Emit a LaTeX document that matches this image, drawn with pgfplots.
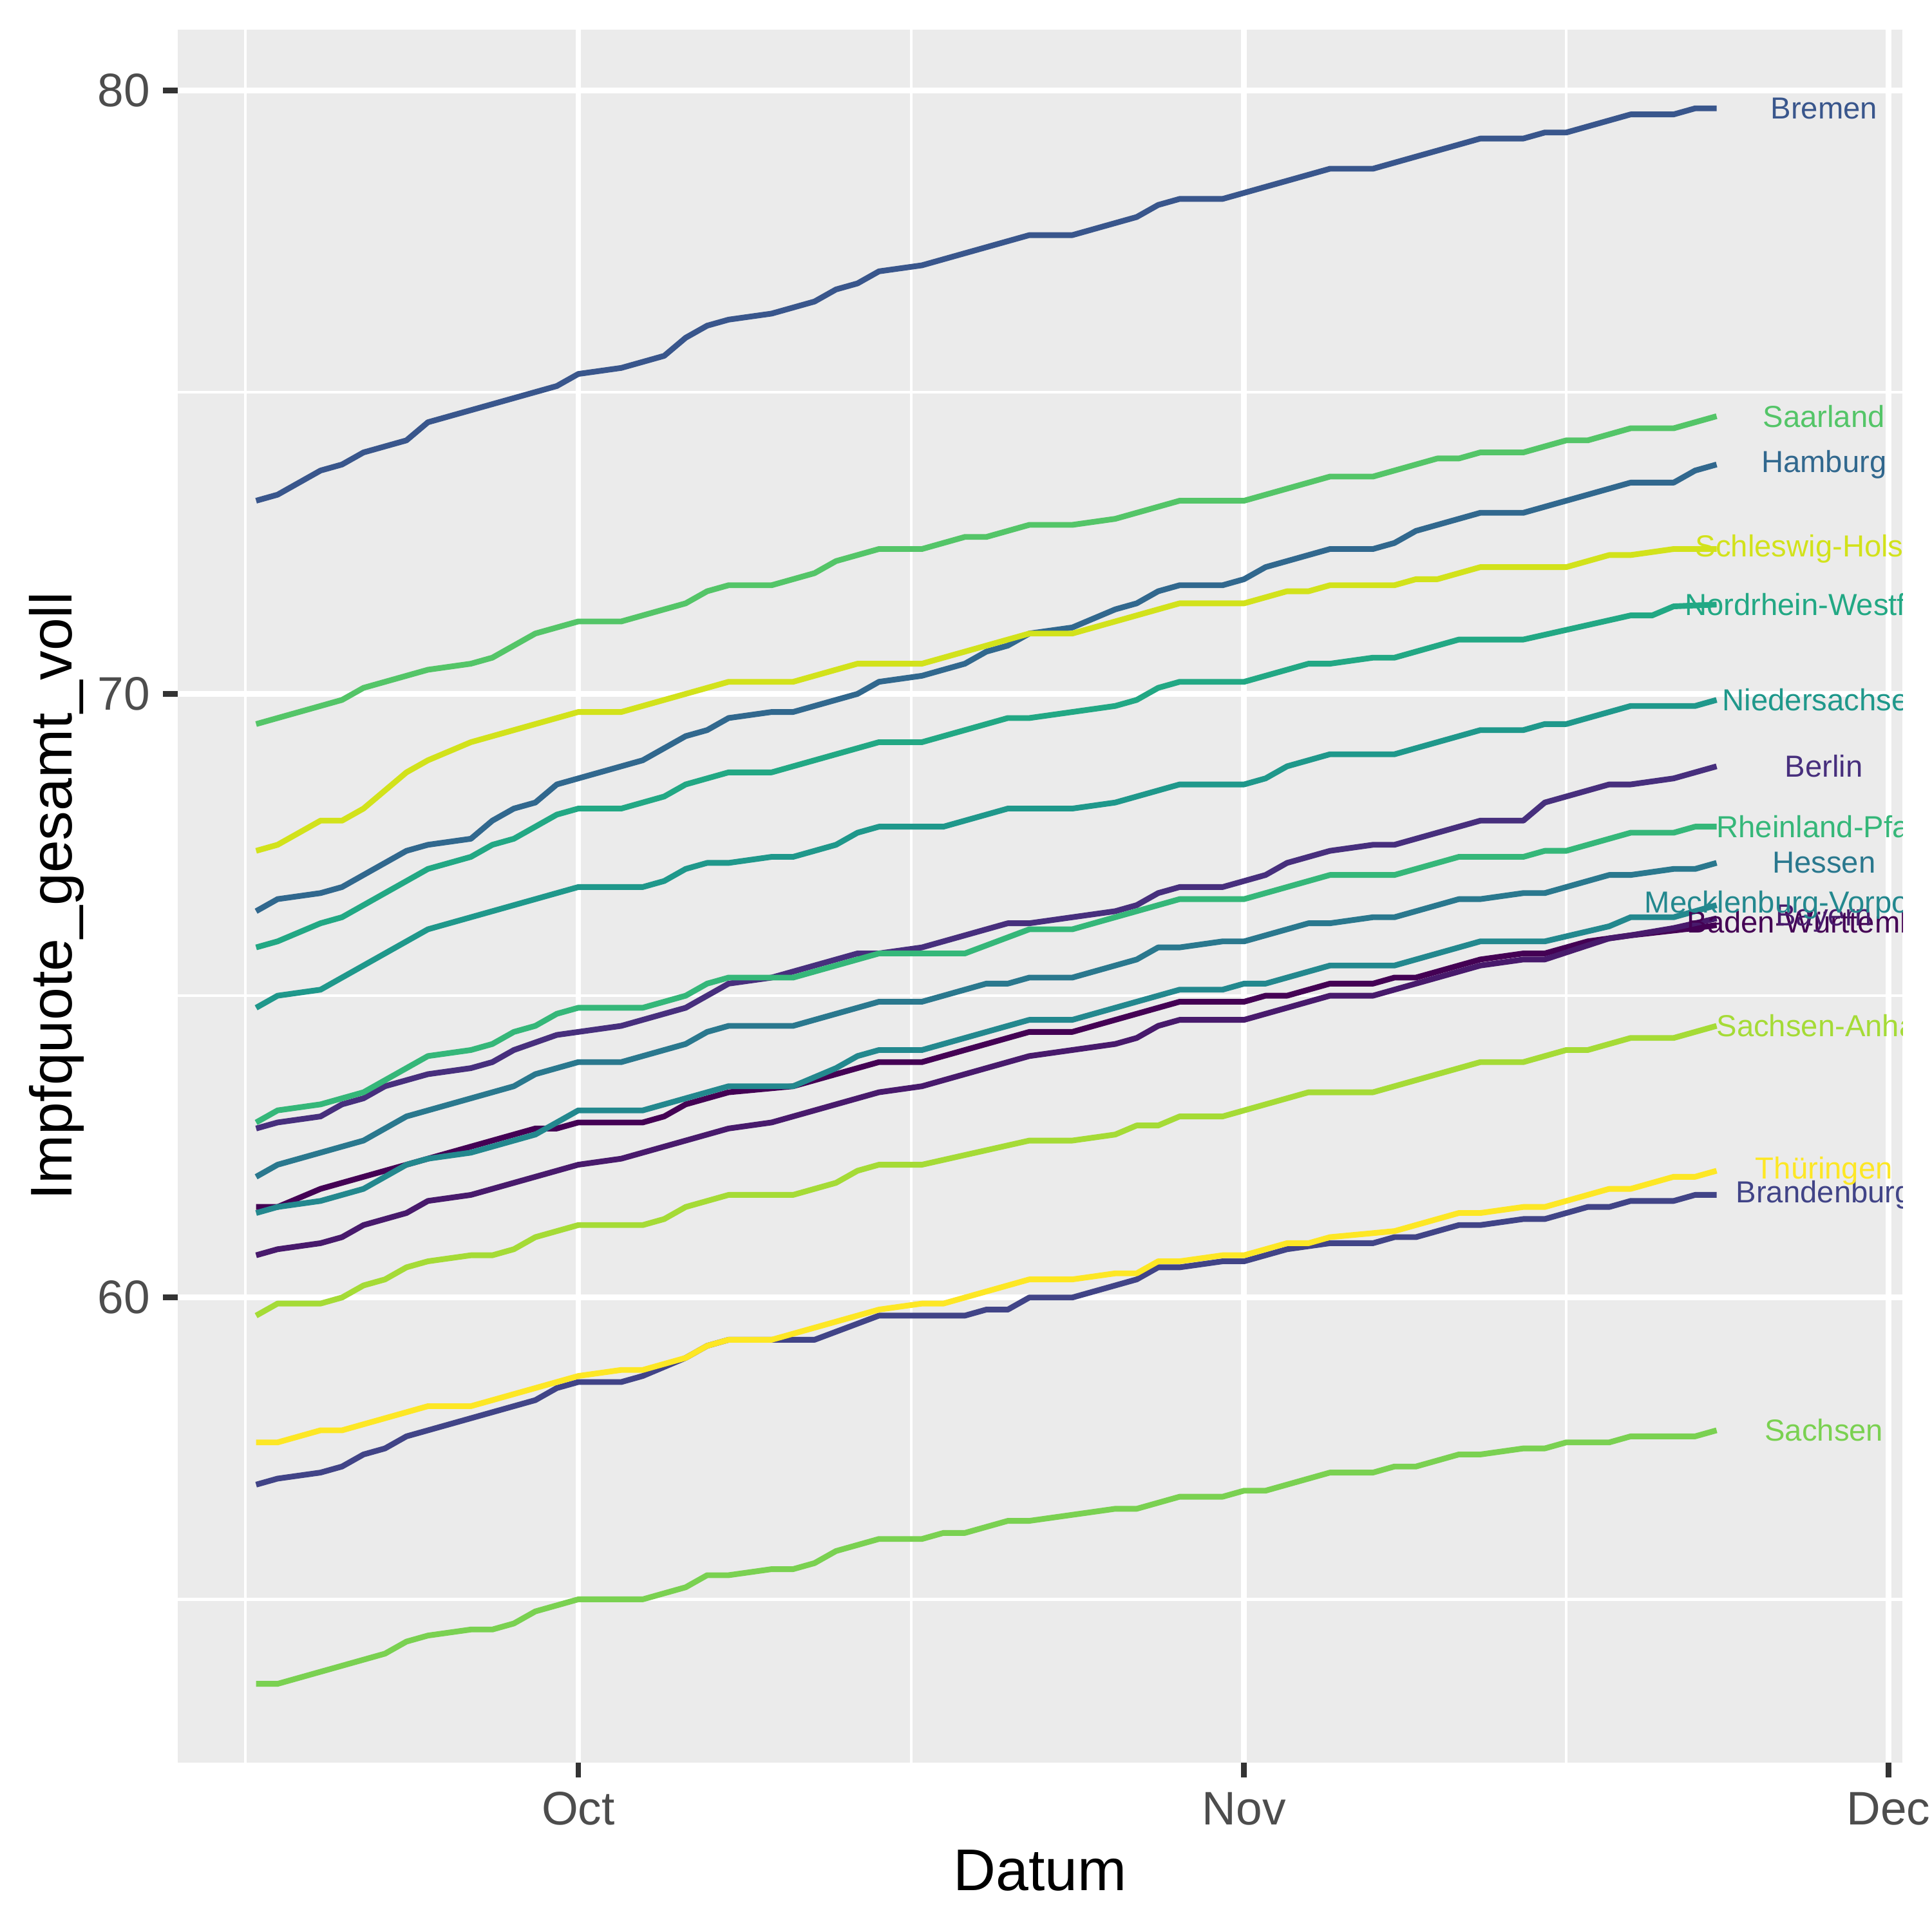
\documentclass[border=0pt]{standalone}
\usepackage{fontspec}
\setmainfont{Liberation Sans}
\usepackage{pgfplots}
\pgfplotsset{compat=1.18}
\definecolor{panelbg}{HTML}{EBEBEB}
\definecolor{tickgray}{HTML}{333333}
\definecolor{ticktext}{HTML}{4D4D4D}
\definecolor{cBW}{HTML}{440154}
\definecolor{cBY}{HTML}{481A6C}
\definecolor{cBE}{HTML}{472F7D}
\definecolor{cBB}{HTML}{414487}
\definecolor{cHB}{HTML}{39568C}
\definecolor{cHH}{HTML}{31688E}
\definecolor{cHE}{HTML}{2A788E}
\definecolor{cMV}{HTML}{23888E}
\definecolor{cNI}{HTML}{1F988B}
\definecolor{cNW}{HTML}{22A884}
\definecolor{cRP}{HTML}{35B779}
\definecolor{cSL}{HTML}{54C568}
\definecolor{cSN}{HTML}{7AD151}
\definecolor{cST}{HTML}{A5DB36}
\definecolor{cSH}{HTML}{D2E21B}
\definecolor{cTH}{HTML}{FDE725}
\newcommand\ticklabfont{\fontsize{8.8}{10}\selectfont}
\newcommand\titlefont{\fontsize{11}{13}\selectfont}
\newcommand\labfont{\fontsize{5.69}{6.8}\selectfont}
\begin{document}
\begin{tikzpicture}
\useasboundingbox (0,0) rectangle (361.35pt,361.35pt);
\begin{axis}[
  at={(33.24pt,31.68pt)}, anchor=south west,
  scale only axis, width=322.57pt, height=324.13pt,
  xmin=-18.65, xmax=61.65, ymin=52.295, ymax=81.005,
  axis background/.style={fill=panelbg},
  axis line style={draw=none},
  xtick={0,31,61}, xticklabels={Oct,Nov,Dec},
  ytick={60,70,80}, yticklabels={60,70,80},
  minor xtick={-15.5,15.5,46}, minor ytick={55,65,75},
  grid=both,
  major grid style={white, line width=1.07pt},
  minor grid style={white, line width=0.53pt},
  tick align=outside, tick pos=left,
  major tick length=2.75pt, minor tick length=0pt,
  major tick style={tickgray, line width=1.07pt},
  tick label style={font=\ticklabfont, text=ticktext},
  xticklabel style={anchor=base, yshift=-8.83pt},
  yticklabel style={anchor=east, inner sep=0pt, xshift=-2.2pt},
  every axis x label/.style={at={(axis description cs:0.5,-0.07395)}, anchor=base, font=\titlefont},
  every axis y label/.style={at={(axis description cs:-0.06135,0.5)}, rotate=90, anchor=base, font=\titlefont},
  xlabel={Datum}, ylabel={Impfquote\_gesamt\_voll},
  /pgf/number format/assume math mode=true,
  every axis plot/.append style={line width=1.07pt, line join=round, mark=none},
]
% Baden-Wuerttemberg
\addplot[cBW] coordinates {(-15,61.5) (-14,61.5) (-12,61.8) (-10,62.0) (-8,62.2) (-5,62.5) (-3,62.7) (-2,62.8) (-1,62.8) (0,62.9) (3,62.9) (4,63.0) (5,63.2) (7,63.4) (10,63.5) (13,63.8) (14,63.9) (16,63.9) (20,64.3) (21,64.4) (23,64.4) (26,64.7) (28,64.9) (31,64.9) (32,65.0) (33,65.0) (35,65.2) (37,65.2) (38,65.3) (39,65.3) (42,65.6) (44,65.7) (45,65.7) (47,65.9) (49,66.0) (51,66.08) (52,66.12) (53,66.17)};
% Bayern
\addplot[cBY] coordinates {(-15,60.7) (-14,60.8) (-12,60.9) (-11,61.0) (-10,61.2) (-8,61.4) (-7,61.6) (-5,61.7) (-1,62.1) (0,62.2) (2,62.3) (6,62.7) (7,62.8) (9,62.9) (12,63.2) (14,63.4) (16,63.5) (20,63.9) (21,64.0) (23,64.1) (25,64.2) (26,64.3) (27,64.5) (28,64.6) (31,64.6) (35,65.0) (37,65.0) (42,65.5) (44,65.6) (45,65.6) (48,65.95) (49,66.0) (51,66.12) (52,66.2) (53,66.28)};
% Berlin
\addplot[cBE] coordinates {(-15,62.8) (-14,62.9) (-12,63.0) (-11,63.2) (-10,63.3) (-9,63.5) (-8,63.6) (-7,63.7) (-5,63.8) (-4,63.9) (-3,64.1) (-1,64.35) (0,64.4) (2,64.5) (5,64.8) (7,65.2) (9,65.3) (11,65.5) (13,65.7) (14,65.7) (16,65.8) (19,66.1) (20,66.2) (21,66.2) (25,66.4) (26,66.5) (27,66.7) (28,66.8) (30,66.8) (31,66.9) (32,67.0) (33,67.2) (35,67.4) (37,67.5) (38,67.5) (42,67.9) (44,67.9) (45,68.2) (48,68.5) (49,68.5) (51,68.6) (53,68.8)};
% Brandenburg
\addplot[cBB] coordinates {(-15,56.9) (-14,57.0) (-12,57.1) (-11,57.2) (-10,57.4) (-9,57.5) (-8,57.7) (-2,58.3) (-1,58.5) (0,58.6) (2,58.6) (3,58.7) (5,59.0) (6,59.2) (7,59.3) (11,59.3) (14,59.7) (18,59.7) (19,59.8) (20,59.8) (21,60.0) (23,60.0) (26,60.3) (27,60.5) (28,60.5) (30,60.6) (31,60.6) (33,60.8) (35,60.9) (37,60.9) (38,61.0) (39,61.0) (41,61.2) (42,61.2) (44,61.3) (45,61.3) (47,61.5) (48,61.5) (49,61.6) (51,61.6) (52,61.7) (53,61.7)};
% Bremen
\addplot[cHB] coordinates {(-15,73.2) (-14,73.3) (-12,73.7) (-11,73.8) (-10,74.0) (-8,74.2) (-7,74.5) (-1,75.1) (0,75.3) (2,75.4) (4,75.6) (5,75.9) (6,76.1) (7,76.2) (9,76.3) (11,76.5) (12,76.7) (13,76.8) (14,77.0) (16,77.1) (21,77.6) (23,77.6) (26,77.9) (27,78.1) (28,78.2) (30,78.2) (35,78.7) (37,78.7) (42,79.2) (44,79.2) (45,79.3) (46,79.3) (49,79.6) (51,79.6) (52,79.7) (53,79.7)};
% Hamburg
\addplot[cHH] coordinates {(-15,66.4) (-14,66.6) (-12,66.7) (-11,66.8) (-8,67.4) (-7,67.5) (-5,67.6) (-4,67.9) (-3,68.1) (-2,68.2) (-1,68.5) (0,68.6) (3,68.9) (5,69.3) (6,69.4) (7,69.6) (9,69.7) (10,69.7) (13,70.0) (14,70.2) (16,70.3) (18,70.5) (19,70.7) (20,70.8) (21,71.0) (23,71.1) (25,71.4) (26,71.5) (27,71.7) (28,71.8) (30,71.8) (31,71.9) (32,72.1) (35,72.4) (37,72.4) (38,72.5) (39,72.7) (42,73.0) (44,73.0) (49,73.5) (51,73.5) (52,73.7) (53,73.8)};
% Hessen
\addplot[cHE] coordinates {(-15,62.0) (-14,62.2) (-12,62.4) (-10,62.6) (-8,63.0) (-7,63.1) (-5,63.3) (-3,63.5) (-2,63.7) (0,63.9) (2,63.9) (5,64.2) (6,64.4) (7,64.5) (10,64.5) (14,64.9) (16,64.9) (19,65.2) (20,65.2) (21,65.3) (23,65.3) (26,65.6) (27,65.8) (28,65.8) (30,65.9) (31,65.9) (34,66.2) (35,66.2) (37,66.3) (38,66.3) (41,66.6) (42,66.6) (44,66.7) (45,66.7) (48,67.0) (49,67.0) (51,67.1) (52,67.1) (53,67.2)};
% Mecklenburg-Vorpommern
\addplot[cMV] coordinates {(-15,61.4) (-14,61.5) (-12,61.6) (-10,61.8) (-8,62.2) (-7,62.3) (-5,62.4) (-2,62.7) (0,63.1) (3,63.1) (5,63.3) (7,63.5) (10,63.5) (12,63.8) (13,64.0) (14,64.1) (16,64.1) (20,64.5) (21,64.6) (23,64.6) (28,65.1) (30,65.1) (31,65.2) (32,65.2) (35,65.5) (38,65.5) (42,65.9) (45,65.9) (48,66.15) (49,66.3) (51,66.3) (53,66.5)};
% Niedersachsen
\addplot[cNI] coordinates {(-15,64.8) (-14,65.0) (-12,65.1) (-7,66.1) (-5,66.3) (-4,66.4) (0,66.8) (3,66.8) (4,66.9) (5,67.1) (6,67.2) (7,67.2) (9,67.3) (10,67.3) (12,67.5) (13,67.7) (14,67.8) (17,67.8) (20,68.1) (23,68.1) (25,68.2) (27,68.4) (28,68.5) (31,68.5) (32,68.6) (33,68.8) (35,69.0) (38,69.0) (42,69.4) (44,69.4) (45,69.5) (46,69.5) (49,69.8) (52,69.8) (53,69.9)};
% Nordrhein-Westfalen
\addplot[cNW] coordinates {(-15,65.8) (-14,65.9) (-12,66.2) (-11,66.3) (-7,67.1) (-5,67.3) (-4,67.5) (-3,67.6) (-1,68.0) (0,68.1) (2,68.1) (4,68.3) (5,68.5) (7,68.7) (9,68.7) (14,69.2) (16,69.2) (20,69.6) (21,69.6) (25,69.8) (26,69.9) (27,70.1) (28,70.2) (31,70.2) (34,70.5) (35,70.5) (37,70.6) (38,70.6) (41,70.9) (44,70.9) (49,71.3) (50,71.3) (51,71.45) (53,71.48)};
% Rheinland-Pfalz
\addplot[cRP] coordinates {(-15,62.9) (-14,63.1) (-12,63.2) (-10,63.4) (-7,64.0) (-5,64.1) (-4,64.2) (-3,64.4) (-2,64.5) (-1,64.7) (0,64.8) (3,64.8) (5,65.0) (6,65.2) (7,65.3) (10,65.3) (14,65.7) (18,65.7) (21,66.1) (23,66.1) (27,66.5) (28,66.6) (31,66.6) (35,67.0) (38,67.0) (41,67.3) (44,67.3) (45,67.4) (46,67.4) (49,67.7) (51,67.7) (52,67.8) (53,67.8)};
% Saarland
\addplot[cSL] coordinates {(-15,69.5) (-11,69.9) (-10,70.1) (-7,70.4) (-5,70.5) (-4,70.6) (-2,71.0) (0,71.2) (2,71.2) (5,71.5) (6,71.7) (7,71.8) (9,71.8) (11,72.0) (12,72.2) (14,72.4) (16,72.4) (18,72.6) (19,72.6) (21,72.8) (23,72.8) (25,72.9) (28,73.2) (31,73.2) (35,73.6) (37,73.6) (40,73.9) (41,73.9) (42,74.0) (44,74.0) (46,74.2) (47,74.2) (49,74.4) (51,74.4) (53,74.6)};
% Sachsen
\addplot[cSN] coordinates {(-15,53.6) (-14,53.6) (-9,54.1) (-8,54.3) (-7,54.4) (-5,54.5) (-4,54.5) (-3,54.6) (-2,54.8) (0,55.0) (3,55.0) (5,55.2) (6,55.4) (7,55.4) (9,55.5) (10,55.5) (11,55.6) (12,55.8) (14,56.0) (16,56.0) (17,56.1) (18,56.1) (20,56.3) (21,56.3) (25,56.5) (26,56.5) (28,56.7) (30,56.7) (31,56.8) (32,56.8) (35,57.1) (37,57.1) (38,57.2) (39,57.2) (41,57.4) (42,57.4) (44,57.5) (45,57.5) (46,57.6) (48,57.6) (49,57.7) (52,57.7) (53,57.8)};
% Sachsen-Anhalt
\addplot[cST] coordinates {(-15,59.7) (-14,59.9) (-12,59.9) (-11,60.0) (-10,60.2) (-9,60.3) (-8,60.5) (-7,60.6) (-5,60.7) (-4,60.7) (-3,60.8) (-2,61.0) (0,61.2) (3,61.2) (4,61.3) (5,61.5) (7,61.7) (10,61.7) (12,61.9) (13,62.1) (14,62.2) (16,62.2) (21,62.6) (23,62.6) (25,62.7) (26,62.85) (27,62.85) (28,63.0) (30,63.0) (34,63.4) (37,63.4) (42,63.9) (44,63.9) (46,64.1) (47,64.1) (49,64.3) (51,64.3) (53,64.5)};
% Schleswig-Holstein
\addplot[cSH] coordinates {(-15,67.4) (-14,67.5) (-12,67.9) (-11,67.9) (-10,68.1) (-8,68.7) (-7,68.9) (-5,69.2) (-4,69.3) (0,69.7) (2,69.7) (3,69.8) (7,70.2) (10,70.2) (13,70.5) (16,70.5) (18,70.7) (21,71.0) (23,71.0) (27,71.4) (28,71.5) (31,71.5) (33,71.7) (34,71.7) (35,71.8) (38,71.8) (39,71.9) (40,71.9) (42,72.1) (46,72.1) (48,72.3) (49,72.3) (51,72.4) (53,72.4)};
% Thueringen
\addplot[cTH] coordinates {(-15,57.6) (-14,57.6) (-12,57.8) (-11,57.8) (-7,58.2) (-5,58.2) (-1,58.6) (0,58.7) (2,58.8) (3,58.8) (5,59.0) (6,59.2) (7,59.3) (9,59.3) (14,59.8) (16,59.9) (17,59.9) (21,60.3) (23,60.3) (25,60.4) (26,60.4) (27,60.6) (28,60.6) (30,60.7) (31,60.7) (33,60.9) (34,60.9) (35,61.0) (38,61.1) (41,61.4) (42,61.4) (44,61.5) (45,61.5) (48,61.8) (49,61.8) (51,62.0) (52,62.0) (53,62.1)};
% labels
\node[text=cBW, font=\labfont] at (axis cs:58,66.17) {Baden-Württemberg};
\node[text=cBY, font=\labfont] at (axis cs:58,66.28) {Bayern};
\node[text=cBE, font=\labfont] at (axis cs:58,68.8) {Berlin};
\node[text=cBB, font=\labfont] at (axis cs:58,61.7) {Brandenburg};
\node[text=cHB, font=\labfont] at (axis cs:58,79.7) {Bremen};
\node[text=cHH, font=\labfont] at (axis cs:58,73.8) {Hamburg};
\node[text=cHE, font=\labfont] at (axis cs:58,67.2) {Hessen};
\node[text=cMV, font=\labfont] at (axis cs:58,66.5) {Mecklenburg-Vorpommern};
\node[text=cNI, font=\labfont] at (axis cs:58,69.9) {Niedersachsen};
\node[text=cNW, font=\labfont] at (axis cs:58,71.48) {Nordrhein-Westfalen};
\node[text=cRP, font=\labfont] at (axis cs:58,67.8) {Rheinland-Pfalz};
\node[text=cSL, font=\labfont] at (axis cs:58,74.6) {Saarland};
\node[text=cSN, font=\labfont] at (axis cs:58,57.8) {Sachsen};
\node[text=cST, font=\labfont] at (axis cs:58,64.5) {Sachsen-Anhalt};
\node[text=cSH, font=\labfont] at (axis cs:58,72.4) {Schleswig-Holstein};
\node[text=cTH, font=\labfont] at (axis cs:58,62.1) {Thüringen};
\end{axis}
\end{tikzpicture}
\end{document}
